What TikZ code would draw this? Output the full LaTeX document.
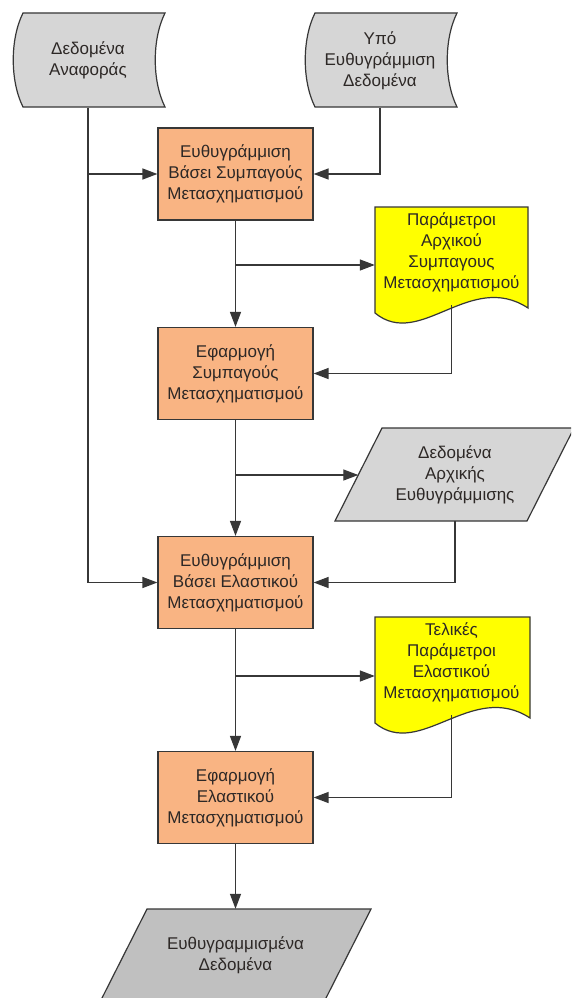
\documentclass[tikz,border=0pt]{standalone}
\usepackage{fontspec}
\setmainfont{Liberation Sans}
\usetikzlibrary{arrows.meta,calc}
\definecolor{boxorange}{RGB}{249,180,131}
\definecolor{datagray}{RGB}{214,214,214}
\definecolor{outgray}{RGB}{192,192,192}
\definecolor{docyellow}{RGB}{255,255,0}
\definecolor{linegray}{RGB}{55,55,55}
\definecolor{txtdark}{RGB}{45,40,38}
\newcommand\gtext{\fontsize{17}{21}\selectfont}
\begin{document}
\begin{tikzpicture}[x=1pt,y=-1pt,
 outline/.style={draw=linegray,line width=1.2pt,line join=miter},
 procbox/.style={outline,fill=boxorange,minimum width=155pt,minimum height=92pt,inner sep=0pt,align=center,font=\gtext,text=txtdark},
 txtnode/.style={inner sep=0pt,align=center,font=\gtext,text=txtdark},
 arr/.style={draw=linegray,line width=1.3pt,-{Triangle[length=15pt,width=11pt]}}]
\useasboundingbox (0,0) rectangle (571,998);
\clip (0,0) rectangle (571,998);
\fill[white] (0,0) rectangle (571,998);
% shape outlines
\path[outline,fill=datagray] (23,13) -- (165,13) .. controls (152,39) and (152,81) .. (165,107) -- (23,107) .. controls (10,81) and (10,39) .. (23,13) -- cycle;
\path[outline,fill=datagray] (315,13) -- (457,13) .. controls (444,39) and (444,81) .. (457,107) -- (315,107) .. controls (302,81) and (302,39) .. (315,13) -- cycle;
\path[outline,fill=docyellow] (375,207) -- (528,207) -- (528,308) .. controls (470,270) and (420,350) .. (375,313) -- cycle;
\path[outline,fill=docyellow] (375,617) -- (530,617) -- (530,718) .. controls (472,680) and (420,760) .. (375,723) -- cycle;
\path[outline,fill=datagray] (382,428) -- (574,428) -- (527,521) -- (335,521) -- cycle;
\path[outline,fill=outgray] (147,909) -- (371,909) -- (324,1002) -- (100,1002) -- cycle;
% nodes
\node[txtnode,minimum width=146pt,minimum height=94pt] (ref) at (88,60.5) {Δεδομένα\\Αναφοράς};
\node[txtnode,minimum width=146pt,minimum height=94pt] (sub) at (380,60.5) {Υπό\\Ευθυγράμμιση\\Δεδομένα};
\node[procbox] (box1) at (235.5,174) {Ευθυγράμμιση\\Βάσει Συμπαγούς\\Μετασχηματισμού};
\node[procbox] (box2) at (235.5,373.5) {Εφαρμογή\\Συμπαγούς\\Μετασχηματισμού};
\node[procbox] (box3) at (235.5,582.5) {Ευθυγράμμιση\\Βάσει Ελαστικού\\Μετασχηματισμού};
\node[procbox] (box4) at (235.5,797.5) {Εφαρμογή\\Ελαστικού\\Μετασχηματισμού};
\node[txtnode,minimum width=153pt,minimum height=106pt] (doc1) at (451.5,252) {Παράμετροι\\Αρχικού\\Συμπαγους\\Μετασχηματισμού};
\node[txtnode,minimum width=153pt,minimum height=106pt] (doc2) at (451.5,662) {Τελικές\\Παράμετροι\\Ελαστικού\\Μετασχηματισμού};
\node[txtnode,minimum width=193pt,minimum height=93pt] (pd1) at (455,474.5) {Δεδομένα\\Αρχικής\\Ευθυγράμμισης};
\node[txtnode,minimum width=224pt,minimum height=93pt] (pd2) at (235.5,955.5) {Ευθυγραμμισμένα\\Δεδομένα};
% junctions
\coordinate (j1) at (235.5,265);
\coordinate (j2) at (235.5,475);
\coordinate (j3) at (235.5,676);
% connectors
\draw[arr] (ref.south) |- (box3.west);
\draw[arr] (ref.south |- box1.west) -- (box1.west);
\draw[arr] (sub.south) |- (box1.east);
\draw[arr] (box1.south) -- (box2.north);
\draw[arr] (j1) -- (j1 -| doc1.west);
\draw[arr] (doc1.south) |- (box2.east);
\draw[arr] (box2.south) -- (box3.north);
\draw[arr] (j2) -- (j2 -| pd1.west);
\draw[arr] (pd1.south) |- (box3.east);
\draw[arr] (box3.south) -- (box4.north);
\draw[arr] (j3) -- (j3 -| doc2.west);
\draw[arr] (doc2.south) |- (box4.east);
\draw[arr] (box4.south) -- (pd2.north);
\end{tikzpicture}
\end{document}
